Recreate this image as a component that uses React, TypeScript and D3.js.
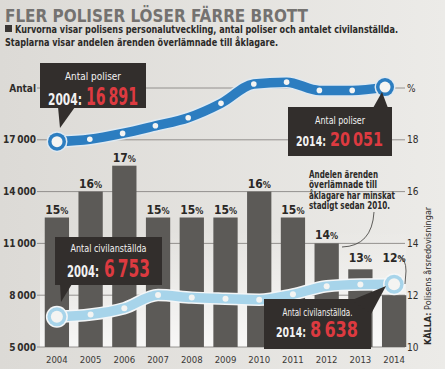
import React from "react";
import * as d3 from "d3";

const years = ["2004", "2005", "2006", "2007", "2008", "2009", "2010", "2011", "2012", "2013", "2014"];
// andel ärenden överlämnade till åklagare (%)
const andelPct = [15, 16, 17, 15, 15, 15, 16, 15, 14, 13, 12];
// antal poliser
const poliser = [16891, 17030, 17370, 17810, 18280, 19110, 20230, 20340, 19860, 19860, 20051];
// antal civilanställda
const civila = [6753, 6880, 7250, 8010, 7860, 7790, 7740, 8050, 8520, 8620, 8638];

const leftTicks = [5000, 8000, 11000, 14000, 17000, 20000];
const leftTickLabels = ["5\u2009000", "8\u2009000", "11\u2009000", "14\u2009000", "17\u2009000", "Antal"];
const rightTicks = [10, 12, 14, 16, 18, 20];
const rightTickLabels = ["10", "12", "14", "16", "18", "%"];

const noteLines = ["Andelen ärenden", "överlämnade till", "åklagare har minskat", "stadigt sedan 2010."];
const noteLens = [69, 68, 86, 81];

const W = 445;
const H = 369;
const FONT = "'Liberation Sans Narrow', 'DejaVu Sans Condensed', 'Liberation Sans', sans-serif";

const BLUE = "#2c7dc0";
const LIGHTBLUE = "#a7d4ea";
const BOX = "#322e2c";
const RED = "#dd3a40";

const x = d3.scaleBand<string>().domain(years).range([38, 413]).paddingInner(0.28).paddingOuter(0.2);
const cx = (yr: string) => (x(yr) as number) + x.bandwidth() / 2;
const xPol = d3.scalePoint<string>().domain(years).range([57, 385]);
const yL = d3.scaleLinear().domain([5000, 20000]).range([347, 88]);
const yR = d3.scaleLinear().domain([10, 20]).range([347, 88]);

const polLine = d3
  .line<number>()
  .x((d, i) => xPol(years[i]) as number)
  .y((d) => yL(d))
  .curve(d3.curveMonotoneX);

const civLine = d3
  .line<number>()
  .x((d, i) => cx(years[i]))
  .y((d) => yL(d))
  .curve(d3.curveMonotoneX);

type CalloutProps = {
  x0: number; y0: number; w: number; h: number;
  pointer: string;
  label: string; labelY: number; labelLen: number;
  year: string; value: string; numY: number;
  yearX: number; yearLen: number; yearFS: number;
  valX: number; valLen: number; valFS: number;
};

const Callout = (p: CalloutProps) => (
  <g>
    <rect x={p.x0} y={p.y0} width={p.w} height={p.h} fill={BOX} />
    <polygon points={p.pointer} fill={BOX} />
    <text x={p.x0 + p.w / 2} y={p.labelY} textAnchor="middle" fill="#f2f2f2" fontSize={11}
      textLength={p.labelLen} lengthAdjust="spacingAndGlyphs">{p.label}</text>
    <text x={p.yearX} y={p.numY} fill="#f2f2f2" fontSize={p.yearFS} fontWeight="bold"
      textLength={p.yearLen} lengthAdjust="spacingAndGlyphs">{p.year}</text>
    <text x={p.valX} y={p.numY} fill={RED} fontSize={p.valFS} fontWeight="bold"
      textLength={p.valLen} lengthAdjust="spacingAndGlyphs">{p.value}</text>
  </g>
);

export default function App() {
  const bw = x.bandwidth();
  const last = years.length - 1;
  return (
    <svg width={W} height={H} style={{ position: "absolute", left: 0, top: 0 }} fontFamily={FONT}>
      <defs>
        <linearGradient id="paper" x1="0" y1="0" x2="1" y2="0">
          <stop offset="0%" stopColor="#dcdad6" />
          <stop offset="100%" stopColor="#ecebe8" />
        </linearGradient>
        <linearGradient id="lower" x1="0" y1="0" x2="0" y2="1">
          <stop offset="0%" stopColor="#ffffff" stopOpacity={0} />
          <stop offset="100%" stopColor="#ffffff" stopOpacity={0.75} />
        </linearGradient>
      </defs>
      <rect width={W} height={H} fill="url(#paper)" />
      <rect x={40} y={230} width={366} height={117} fill="url(#lower)" />

      {/* rubrik */}
      <text x={5} y={22} fontFamily="'DejaVu Sans', sans-serif" fontWeight="bold" fontSize={18}
        fill="#747270" textLength={303} lengthAdjust="spacingAndGlyphs">FLER POLISER LÖSER FÄRRE BROTT</text>
      <rect x={5} y={25} width={7} height={7} fill="#3a3634" />
      <text x={15} y={33} fontSize={10.5} fill="#2c2a28" fontWeight="bold"
        textLength={383} lengthAdjust="spacingAndGlyphs">
        Kurvorna visar polisens personalutveckling, antal poliser och antalet civilanställda.
      </text>
      <text x={5} y={46} fontSize={10.5} fill="#2c2a28" fontWeight="bold"
        textLength={273} lengthAdjust="spacingAndGlyphs">
        Staplarna visar andelen ärenden överlämnade till åklagare.
      </text>

      {/* stödlinjer */}
      {leftTicks.map((t, i) => (
        <g key={t}>
          <line x1={37} x2={405} y1={yL(t)} y2={yL(t)} stroke="#7d7b78" strokeWidth={0.8} />
          <text x={36} y={yL(t) + 3.5} textAnchor="end" fontSize={10} fill="#2e2c2a"
            fontWeight="bold">{leftTickLabels[i]}</text>
        </g>
      ))}
      {rightTicks.map((t, i) => (
        <text key={t} x={407} y={yR(t) + 3.5} fontSize={10} fill="#2e2c2a">{rightTickLabels[i]}</text>
      ))}

      {/* staplar */}
      {years.map((yr, i) => (
        <rect key={yr} x={x(yr)} y={yR(andelPct[i])} width={bw} height={347 - yR(andelPct[i])} fill="#5c5a57" />
      ))}
      {years.map((yr, i) => (
        <text key={"l" + yr} x={cx(yr)} y={Math.min(yR(andelPct[i]) - 4, 262)} textAnchor="middle"
          fontSize={12} fontWeight="bold" fill="#2a2826">
          {andelPct[i]}
          <tspan fontSize={9}>%</tspan>
        </text>
      ))}
      {years.map((yr) => (
        <text key={"y" + yr} x={cx(yr)} y={363} textAnchor="middle" fontSize={9.5} fill="#3a3836">{yr}</text>
      ))}

      {/* poliser */}
      <path d={polLine(poliser) as string} fill="none" stroke="#dfe9f1" strokeWidth={12.5} strokeLinejoin="round" />
      <path d={polLine(poliser) as string} fill="none" stroke={BLUE} strokeWidth={9.5} strokeLinejoin="round" />
      {poliser.map((v, i) =>
        i === 0 || i === last ? (
          <g key={i}>
            <circle cx={xPol(years[i])} cy={yL(v)} r={10.5} fill="#dfe9f1" />
            <circle cx={xPol(years[i])} cy={yL(v)} r={9} fill={BLUE} />
            <circle cx={xPol(years[i])} cy={yL(v)} r={5.5} fill="#f4f4f2" />
          </g>
        ) : (
          <circle key={i} cx={xPol(years[i])} cy={yL(v)} r={2.8} fill="#f4f4f2" />
        )
      )}

      {/* civilanställda */}
      <path d={civLine(civila) as string} fill="none" stroke="#f4f6f7" strokeWidth={12.5} strokeLinejoin="round" />
      <path d={civLine(civila) as string} fill="none" stroke={LIGHTBLUE} strokeWidth={9.5} strokeLinejoin="round" />
      {civila.map((v, i) =>
        i === 0 || i === last ? (
          <g key={i}>
            <circle cx={cx(years[i])} cy={yL(v)} r={11} fill="#f4f6f7" />
            <circle cx={cx(years[i])} cy={yL(v)} r={9.5} fill={LIGHTBLUE} />
            <circle cx={cx(years[i])} cy={yL(v)} r={6} fill="#f4f4f2" />
          </g>
        ) : (
          <circle key={i} cx={cx(years[i])} cy={yL(v)} r={3} fill="#f4f4f2" />
        )
      )}

      {/* rutor */}
      <Callout x0={40} y0={63} w={106} h={45} pointer="58,107 75,107 60,128"
        label="Antal poliser" labelY={80} labelLen={56}
        year="2004:" value={"16\u2009891"} numY={105}
        yearX={48} yearLen={34} yearFS={16} valX={86} valLen={52} valFS={24} />
      <Callout x0={288} y0={107} w={104} h={49} pointer="373,108 382,92 388,108"
        label="Antal poliser" labelY={124} labelLen={50}
        year="2014:" value={"20\u2009051"} numY={146}
        yearX={296} yearLen={30} yearFS={14} valX={330} valLen={53} valFS={20} />
      <Callout x0={55} y0={237} w={107} h={48} pointer="60,284 72,284 61,302"
        label="Antal civilanställda" labelY={252} labelLen={76}
        year="2004:" value={"6\u2009753"} numY={277}
        yearX={67} yearLen={32} yearFS={15} valX={104} valLen={46} valFS={24} />
      <Callout x0={264} y0={299} w={107} h={50} pointer="352,300 386,286 371,314"
        label="Antal civilanställda." labelY={316} labelLen={70}
        year="2014:" value={"8\u2009638"} numY={337}
        yearX={276} yearLen={30} yearFS={14} valX={310} valLen={48} valFS={21} />

      {/* kommentar */}
      {noteLines.map((s, i) => (
        <text key={s} x={309} y={178 + i * 10.4} fontSize={10.5} fill="#2c2a28" fontWeight="bold"
          textLength={noteLens[i]} lengthAdjust="spacingAndGlyphs">{s}</text>
      ))}
      <path d="M374,212 Q372,246 342,247" fill="none" stroke="#3a3836" strokeWidth={0.8} />
      <path d="M399,256 Q406,259 406,271 L405,284" fill="none" stroke="#3a3836" strokeWidth={0.8} />

      <text transform="translate(431,345) rotate(-90)" fontSize={9} fill="#2c2a28">
        <tspan fontWeight="bold">KÄLLA:</tspan> Polisens årsredovisningar
      </text>
    </svg>
  );
}
